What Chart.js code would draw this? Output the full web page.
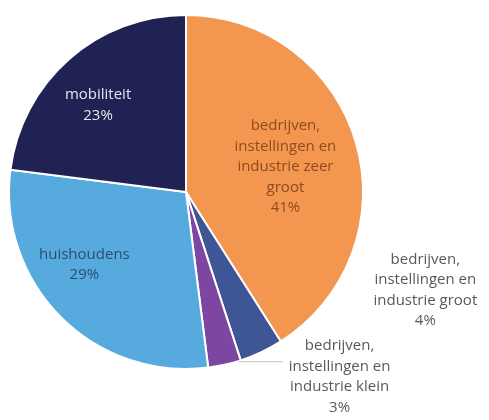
<!DOCTYPE html>
<html>
<head>
<meta charset="utf-8">
<script src="https://cdn.jsdelivr.net/npm/chart.js@4"></script>
<style>
  html, body { margin: 0; padding: 0; background: #fff; }
  #wrap { width: 489px; height: 420px; }
</style>
</head>
<body>
<div id="wrap"><canvas id="taartChart" width="489" height="420"></canvas></div>
<script>
// data: aandeel per sector (%), kloksgewijs vanaf boven
const categories = [
    ['bedrijven,', 'instellingen en', 'industrie zeer', 'groot'],
    ['bedrijven,', 'instellingen en', 'industrie groot'],
    ['bedrijven,', 'instellingen en', 'industrie klein'],
    ['huishoudens'],
    ['mobiliteit']
];
const percentages = [41, 4, 3, 29, 23];
const sliceColors = ['#F3964F', '#3E5596', '#7D46A0', '#56AADE', '#202254'];

// waar elk label komt (binnen de taart of ernaast)
const labelPlacement = [
    { inside: true, f: 0.585, dx: 0, dy: 4, color: '#8E4B1E' },
    { inside: false, dx: 164, dy: -62, color: '#595959' },
    { inside: false, dx: 115, dy: 12, color: '#595959', leader: true },
    { inside: true, f: 0.7, dx: -14, dy: -15, color: '#2E4C6E' },
    { inside: true, f: 0.7, dx: -6, dy: 6, color: '#E6E6EE' }
];

const labelPlugin = {
    id: 'taartLabels',
    afterDatasetsDraw(chart) {
        const ctx = chart.ctx;
        const meta = chart.getDatasetMeta(0);
        ctx.save();
        ctx.font = '15px "Open Sans", sans-serif';
        ctx.textAlign = 'center';
        ctx.textBaseline = 'middle';
        const lineH = 20.5;
        meta.data.forEach((arc, i) => {
            const p = labelPlacement[i];
            const mid = (arc.startAngle + arc.endAngle) / 2;
            let cx, cy;
            if (p.inside) {
                cx = arc.x + Math.cos(mid) * arc.outerRadius * p.f + p.dx;
                cy = arc.y + Math.sin(mid) * arc.outerRadius * p.f + p.dy;
            } else {
                const ox = arc.x + Math.cos(mid) * arc.outerRadius;
                const oy = arc.y + Math.sin(mid) * arc.outerRadius;
                cx = ox + p.dx;
                cy = oy + p.dy;
                if (p.leader) {
                    const ly = oy - 3;
                    ctx.strokeStyle = '#BFBFBF';
                    ctx.lineWidth = 1;
                    ctx.beginPath();
                    ctx.moveTo(ox + 14, ly);
                    ctx.lineTo(cx - 57, ly);
                    ctx.stroke();
                }
            }
            const lines = categories[i].concat([percentages[i] + '%']);
            const top = cy - (lines.length - 1) * lineH / 2;
            ctx.fillStyle = p.color;
            lines.forEach((t, k) => ctx.fillText(t, cx, top + k * lineH));
        });
        ctx.restore();
    }
};

new Chart(document.getElementById('taartChart'), {
    type: 'pie',
    data: {
        labels: categories,
        datasets: [{
            data: percentages,
            backgroundColor: sliceColors,
            borderColor: '#FFFFFF',
            borderWidth: 2
        }]
    },
    options: {
        responsive: false,
        animation: false,
        layout: { padding: { left: 8, right: 125, top: 14, bottom: 50 } },
        plugins: {
            legend: { display: false },
            tooltip: { enabled: false }
        }
    },
    plugins: [labelPlugin]
});
</script>
</body>
</html>
